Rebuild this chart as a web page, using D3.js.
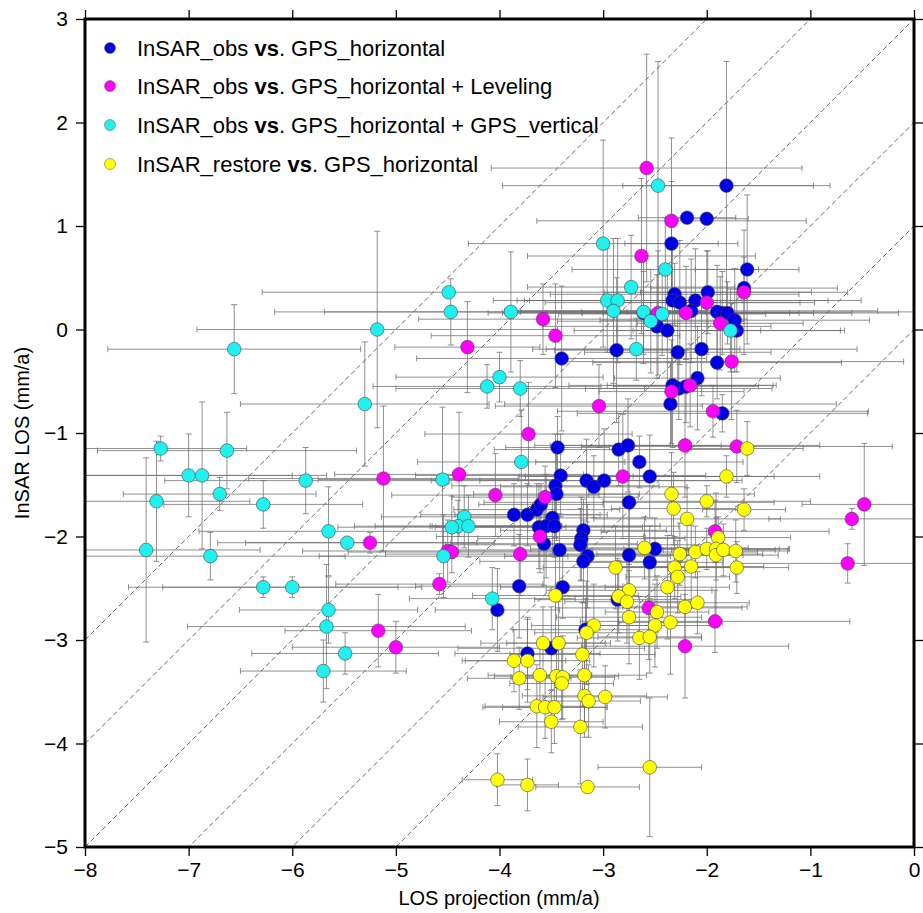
<!DOCTYPE html>
<html>
<head>
<meta charset="utf-8">
<script src="https://cdn.jsdelivr.net/npm/d3@7"></script>
<style>
  body { margin: 0; background: #fff; }
  svg { font-family: "Liberation Sans", Arial, sans-serif; }
</style>
</head>
<body>
<svg id="chart" width="923" height="913"></svg>
<script>
// [x, y, xerr, yerr] in mm/a
var blueObs = [
  [-1.81, 1.39, 1.0, 1.2], [-2.19, 1.08, 0.47, 0.05], [-2.0, 1.07, 0.4, 0.05], [-2.34, 0.83, 0.45, 0.6],
  [-1.61, 0.58, 0.5, 0.72], [-1.64, 0.40, 0.9, 0.3], [-2.31, 0.34, 1.2, 0.3], [-1.99, 0.36, 1.0, 0.4],
  [-2.33, 0.28, 1.5, 0.5], [-2.26, 0.26, 1.3, 0.6], [-2.11, 0.28, 1.6, 0.5], [-2.61, 0.16, 1.5, 0.4],
  [-2.15, 0.18, 1.8, 0.5], [-1.90, 0.17, 1.9, 0.45], [-1.85, 0.16, 1.7, 0.4], [-1.80, 0.16, 1.2, 0.3],
  [-1.73, 0.09, 1.3, 0.5], [-1.71, -0.01, 1.0, 0.4], [-2.48, 0.03, 1.1, 0.5], [-2.38, -0.01, 0.9, 0.6],
  [-2.87, -0.20, 0.6, 0.7], [-2.28, -0.22, 0.9, 0.4], [-2.05, -0.19, 1.5, 0.45], [-1.90, -0.32, 1.2, 0.35],
  [-3.40, -0.28, 1.4, 0.7], [-2.09, -0.47, 0.8, 0.5], [-2.33, -0.54, 1.0, 0.6], [-2.27, -0.57, 0.9, 0.3],
  [-2.20, -0.55, 0.7, 0.35], [-2.35, -0.72, 1.6, 0.4], [-1.85, -0.81, 1.4, 0.18], [-3.44, -1.14, 0.5, 0.3],
  [-3.41, -1.41, 1.4, 0.4], [-3.46, -1.51, 1.0, 0.5], [-3.45, -1.59, 0.8, 0.45], [-3.86, -1.79, 0.9, 0.3],
  [-3.73, -1.79, 0.7, 0.3], [-3.64, -1.74, 0.8, 0.25], [-3.60, -1.69, 0.6, 0.2], [-3.49, -1.82, 0.9, 0.35],
  [-3.62, -1.91, 1.0, 0.4], [-3.55, -1.90, 1.1, 0.5], [-3.47, -1.90, 1.2, 0.3], [-3.57, -2.07, 0.9, 0.4],
  [-3.42, -2.13, 1.0, 0.35], [-3.16, -1.46, 1.5, 0.4], [-3.09, -1.52, 0.9, 0.3], [-2.99, -1.46, 1.2, 0.5],
  [-2.85, -1.16, 1.2, 0.35], [-2.76, -1.12, 0.9, 0.45], [-2.65, -1.28, 1.0, 0.25], [-2.55, -1.42, 1.2, 0.4],
  [-2.75, -1.67, 1.4, 0.6], [-3.19, -1.94, 0.8, 0.3], [-3.21, -2.02, 1.0, 0.4], [-3.22, -2.08, 1.3, 0.35],
  [-3.15, -2.19, 0.8, 0.5], [-3.19, -2.24, 1.0, 0.4], [-3.39, -2.49, 0.6, 0.3], [-2.75, -2.18, 1.1, 0.5],
  [-2.50, -2.12, 1.2, 0.3], [-2.55, -2.25, 0.7, 0.35], [-2.86, -2.61, 0.8, 0.4], [-3.17, -2.90, 0.7, 0.3],
  [-3.50, -3.08, 0.9, 0.4], [-3.73, -3.13, 0.7, 0.35], [-3.81, -2.48, 1.0, 0.5], [-4.02, -2.71, 0.6, 0.4]
];
var magentaLev = [
  [-2.58, 1.56, 1.5, 1.1], [-2.34, 1.05, 1.3, 0.8], [-2.63, 0.71, 1.1, 0.75], [-1.64, 0.36, 1.0, 0.6],
  [-2.00, 0.26, 0.9, 0.5], [-2.47, 0.16, 1.5, 0.6], [-2.20, 0.16, 1.0, 0.45], [-1.87, 0.06, 0.8, 0.45],
  [-1.76, -0.31, 1.66, 0.56], [-2.16, -0.54, 0.8, 0.4], [-2.34, -0.60, 0.7, 0.5], [-3.04, -0.74, 1.0, 0.4],
  [-1.94, -0.79, 1.5, 0.25], [-3.46, -0.06, 1.2, 0.5], [-3.58, 0.10, 1.2, 0.34], [-4.31, -0.17, 0.7, 0.44],
  [-3.72, -1.01, 1.0, 0.5], [-4.39, -1.40, 1.2, 0.6], [-4.04, -1.60, 1.0, 0.4], [-3.56, -1.62, 0.9, 0.3],
  [-3.61, -2.00, 1.0, 0.35], [-2.81, -1.42, 1.0, 0.6], [-2.21, -1.12, 1.3, 0.5], [-1.71, -1.13, 1.5, 0.35],
  [-1.92, -1.95, 1.1, 0.3], [-0.48, -1.69, 0.6, 0.59], [-0.60, -1.83, 0.8, 0.1], [-0.64, -2.26, 1.1, 0.19],
  [-1.92, -2.82, 1.3, 0.3], [-2.21, -3.06, 1.0, 0.5], [-2.56, -2.69, 0.9, 0.5], [-3.80, -2.17, 1.3, 0.4],
  [-4.50, -2.14, 1.4, 0.3], [-4.46, -2.15, 1.0, 0.2], [-4.58, -2.46, 1.0, 0.1], [-5.12, -1.44, 1.3, 0.7],
  [-5.25, -2.06, 1.2, 0.1], [-5.17, -2.91, 0.9, 0.35], [-5.00, -3.07, 1.0, 0.25]
];
var cyanVert = [
  [-2.47, 1.39, 1.5, 1.2], [-3.00, 0.83, 1.3, 1.0], [-2.40, 0.58, 0.9, 0.5], [-2.73, 0.41, 1.0, 0.5],
  [-2.96, 0.28, 0.8, 0.5], [-2.86, 0.28, 1.2, 0.6], [-2.90, 0.18, 0.9, 0.7], [-2.61, 0.17, 0.6, 0.5],
  [-2.43, 0.15, 1.0, 0.4], [-2.54, 0.08, 0.9, 0.5], [-1.77, -0.01, 1.1, 0.4], [-2.68, -0.19, 1.0, 0.3],
  [-4.49, 0.36, 1.8, 0.05], [-4.47, 0.17, 1.7, 0.32], [-3.89, 0.17, 1.8, 0.58], [-4.00, -0.46, 1.0, 0.24],
  [-4.12, -0.55, 1.1, 0.21], [-3.80, -0.57, 1.2, 0.27], [-6.56, -0.19, 1.22, 0.43], [-5.18, 0.00, 1.74, 0.95],
  [-5.30, -0.72, 1.2, 0.6], [-7.27, -1.15, 0.83, 0.12], [-6.63, -1.17, 1.25, 0.37], [-7.00, -1.41, 1.0, 0.4],
  [-6.87, -1.41, 1.2, 0.71], [-5.87, -1.46, 1.36, 0.32], [-6.70, -1.59, 0.93, 0.16], [-7.31, -1.66, 0.9, 0.58],
  [-6.28, -1.69, 0.96, 0.23], [-5.65, -1.95, 1.25, 0.43], [-5.47, -2.06, 1.25, 0.04], [-7.41, -2.13, 1.1, 0.89],
  [-6.79, -2.19, 1.3, 0.23], [-6.28, -2.49, 1.3, 0.1], [-6.00, -2.49, 1.25, 0.1], [-5.65, -2.71, 0.86, 0.32],
  [-5.67, -2.87, 1.34, 0.6], [-5.70, -3.30, 0.8, 0.3], [-5.49, -3.13, 0.9, 0.2], [-4.55, -1.45, 1.2, 0.7],
  [-3.79, -1.28, 1.0, 0.5], [-4.34, -1.81, 0.8, 0.3], [-4.40, -1.90, 1.0, 0.25], [-4.30, -1.90, 0.9, 0.3],
  [-4.46, -1.91, 1.1, 0.3], [-4.54, -2.19, 1.2, 0.4], [-4.07, -2.60, 0.8, 0.3]
];
var yellowRestore = [
  [-1.61, -1.15, 0.54, 0.26], [-1.81, -1.42, 0.9, 0.2], [-2.00, -1.66, 1.0, 0.15], [-1.64, -1.74, 0.4, 0.2],
  [-2.34, -1.59, 0.8, 0.4], [-2.32, -1.73, 0.6, 0.35], [-2.19, -1.83, 0.9, 0.3], [-1.89, -2.01, 0.7, 0.2],
  [-2.60, -2.11, 1.0, 0.3], [-2.26, -2.17, 0.8, 0.3], [-2.11, -2.15, 0.6, 0.25], [-2.00, -2.12, 0.8, 0.2],
  [-1.91, -2.12, 0.7, 0.3], [-1.91, -2.18, 0.6, 0.6], [-1.84, -2.13, 0.5, 0.25], [-1.72, -2.14, 0.5, 0.3],
  [-1.71, -2.30, 0.5, 0.25], [-2.15, -2.29, 0.7, 0.4], [-2.31, -2.30, 0.6, 0.3], [-2.28, -2.39, 0.5, 0.35],
  [-2.88, -2.30, 0.7, 0.4], [-2.38, -2.49, 0.6, 0.5], [-2.75, -2.52, 0.8, 0.3], [-2.85, -2.58, 0.6, 0.35],
  [-2.77, -2.63, 0.6, 0.4], [-2.48, -2.73, 0.5, 0.35], [-2.75, -2.78, 0.7, 0.45], [-2.50, -2.86, 0.6, 0.4],
  [-2.35, -2.83, 0.5, 0.5], [-2.21, -2.68, 0.6, 0.35], [-2.09, -2.64, 0.5, 0.3], [-2.65, -2.98, 0.6, 0.4],
  [-2.55, -2.97, 0.5, 0.35], [-3.46, -2.57, 0.8, 0.5], [-3.09, -2.86, 0.6, 0.4], [-3.16, -2.93, 0.5, 0.5],
  [-3.58, -3.03, 0.6, 0.35], [-3.43, -3.03, 0.5, 0.4], [-3.20, -3.14, 0.7, 0.5], [-3.86, -3.20, 0.5, 0.3],
  [-3.73, -3.20, 0.6, 0.4], [-3.81, -3.37, 0.5, 0.3], [-3.61, -3.34, 0.5, 0.35], [-3.45, -3.35, 0.6, 0.3],
  [-3.39, -3.36, 0.5, 0.4], [-3.40, -3.42, 0.5, 0.35], [-3.18, -3.34, 0.6, 0.45], [-3.18, -3.54, 0.6, 0.4],
  [-3.14, -3.59, 0.5, 0.35], [-2.98, -3.55, 0.6, 0.3], [-3.64, -3.64, 0.5, 0.4], [-3.56, -3.65, 0.6, 0.3],
  [-3.47, -3.65, 0.5, 0.35], [-3.50, -3.79, 0.5, 0.3], [-3.22, -3.84, 0.6, 0.55], [-4.02, -4.35, 0.34, 0.25],
  [-3.73, -4.40, 0.3, 0.25], [-3.15, -4.42, 0.5, 0.05], [-2.55, -4.23, 0.5, 0.67]
];
var xTicks = [-8, -7, -6, -5, -4, -3, -2, -1, 0];
var yTicks = [-5, -4, -3, -2, -1, 0, 1, 2, 3];
var refOffsets = [0, 1, 2, 3, 4, 5]; // dashed lines y = x + c

var series = [
  { name: "InSAR_obs", rest: ". GPS_horizontal", color: "#0000e6", data: blueObs },
  { name: "InSAR_obs", rest: ". GPS_horizontal + Leveling", color: "#ff00ff", data: magentaLev },
  { name: "InSAR_obs", rest: ". GPS_horizontal + GPS_vertical", color: "#1ff0f0", data: cyanVert },
  { name: "InSAR_restore", rest: ". GPS_horizontal", color: "#ffff00", data: yellowRestore }
];

var svg = d3.select("#chart");
var x = d3.scaleLinear().domain([-8, 0]).range([85, 914]);
var y = d3.scaleLinear().domain([-5, 3]).range([847, 19]);

svg.append("rect").attr("width", 923).attr("height", 913).attr("fill", "#fff");

svg.append("clipPath").attr("id", "plotclip")
  .append("rect").attr("x", 85).attr("y", 19).attr("width", 829).attr("height", 828);

var plot = svg.append("g").attr("clip-path", "url(#plotclip)");

// reference lines
plot.selectAll("line.ref").data(refOffsets).enter().append("line")
  .attr("class", "ref")
  .attr("x1", function(c) { return x(-8); })
  .attr("y1", function(c) { return y(-8 + c); })
  .attr("x2", function(c) { return x(0); })
  .attr("y2", function(c) { return y(c); })
  .attr("stroke", "#555").attr("stroke-width", 0.9).attr("stroke-dasharray", "5,3");

// error bars for all series first
var cap = 3;
series.forEach(function(s) {
  var g = plot.append("g").attr("stroke", "#6e6e6e").attr("stroke-width", 0.9).attr("stroke-opacity", 0.85);
  s.data.forEach(function(d) {
    var cx = x(d[0]), cy = y(d[1]);
    var xl = x(d[0] - d[2]), xr = x(d[0] + d[2]);
    var yt = y(d[1] + d[3]), yb = y(d[1] - d[3]);
    g.append("line").attr("x1", xl).attr("x2", xr).attr("y1", cy).attr("y2", cy);
    g.append("line").attr("x1", xl).attr("x2", xl).attr("y1", cy - cap).attr("y2", cy + cap);
    g.append("line").attr("x1", xr).attr("x2", xr).attr("y1", cy - cap).attr("y2", cy + cap);
    g.append("line").attr("x1", cx).attr("x2", cx).attr("y1", yt).attr("y2", yb);
    g.append("line").attr("x1", cx - cap).attr("x2", cx + cap).attr("y1", yt).attr("y2", yt);
    g.append("line").attr("x1", cx - cap).attr("x2", cx + cap).attr("y1", yb).attr("y2", yb);
  });
});

// points
series.forEach(function(s) {
  plot.append("g").selectAll("circle").data(s.data).enter().append("circle")
    .attr("cx", function(d) { return x(d[0]); })
    .attr("cy", function(d) { return y(d[1]); })
    .attr("r", 6.8)
    .attr("fill", s.color)
    .attr("stroke", "#444").attr("stroke-width", 0.6);
});

// axes
function styleAxis(g) {
  g.select(".domain").remove();
  g.selectAll(".tick line").attr("stroke", "#000").attr("stroke-width", 1.3);
  g.selectAll(".tick text").attr("fill", "#000").style("font-size", "21px")
    .style("font-family", "'Liberation Sans', Arial, sans-serif");
}
svg.append("g").attr("transform", "translate(0,847)")
  .call(d3.axisBottom(x).tickValues(xTicks).tickSize(9).tickPadding(6))
  .call(styleAxis);
svg.append("g").attr("transform", "translate(85,0)")
  .call(d3.axisLeft(y).tickValues(yTicks).tickSize(9).tickPadding(8))
  .call(styleAxis);
svg.append("g").attr("transform", "translate(0,19)")
  .call(d3.axisTop(x).tickValues(xTicks).tickSize(9).tickFormat(""))
  .call(styleAxis);
svg.append("g").attr("transform", "translate(914,0)")
  .call(d3.axisRight(y).tickValues(yTicks).tickSize(9).tickFormat(""))
  .call(styleAxis);

// frame
svg.append("rect").attr("x", 85).attr("y", 19).attr("width", 829).attr("height", 828)
  .attr("fill", "none").attr("stroke", "#000").attr("stroke-width", 3);

// axis titles
svg.append("text").attr("x", 499).attr("y", 905).attr("text-anchor", "middle")
  .style("font-size", "20px").text("LOS projection (mm/a)");
svg.append("text").attr("transform", "translate(29,433) rotate(-90)").attr("text-anchor", "middle")
  .style("font-size", "20px").text("InSAR LOS (mm/a)");

// legend
var legY = [48, 86, 125, 164];
var leg = svg.append("g");
series.forEach(function(s, i) {
  leg.append("circle").attr("cx", 110).attr("cy", legY[i]).attr("r", 5.5)
    .attr("fill", s.color).attr("stroke", "#555").attr("stroke-width", 0.5);
  var t = leg.append("text").attr("x", 137).attr("y", legY[i] + 8).style("font-size", "22px");
  t.append("tspan").text(s.name + " ");
  t.append("tspan").style("font-weight", "bold").text("vs");
  t.append("tspan").text(s.rest);
});
</script>
</body>
</html>
